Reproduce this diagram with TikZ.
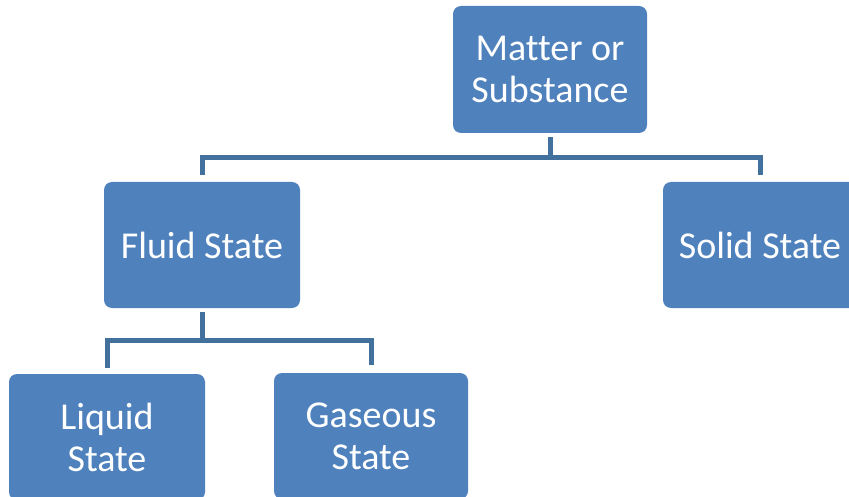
\documentclass[tikz,border=0pt]{standalone}
\usepackage{fontspec}
\setmainfont{Carlito}[Ligatures=NoCommon]
\definecolor{boxfill}{HTML}{4F81BD}
\definecolor{linkcol}{HTML}{41719C}
\begin{document}
\begin{tikzpicture}[x=1pt,y=-1pt,
  box/.style={rectangle, rounded corners=8pt, fill=boxfill, text=white,
    align=center, inner sep=0pt, minimum width=194pt, minimum height=126pt,
    font=\fontsize{38}{42}\selectfont},
  link/.style={draw=linkcol, line width=5pt}]
\useasboundingbox (0,0) rectangle (849,497);
\node[box, minimum height=127pt] (matter) at (550,69.5) {Matter or\\Substance};
\node[box, minimum width=196pt] (fluid) at (202,245) {Fluid State};
\node[box] (solid) at (760,245) {Solid State};
\node[box, minimum width=196pt] (liquid) at (107,437) {Liquid\\State};
\node[box] (gas) at (371,436) {Gaseous\\State};
\draw[link, shorten <=4pt, shorten >=7pt] (matter.south) -- ++(0,24) -| (fluid.north);
\draw[link, shorten <=4pt, shorten >=7pt] (matter.south) -- ++(0,24) -| (solid.north);
\draw[link, shorten <=4pt, shorten >=6pt] (fluid.south) -- ++(0,32) -| (liquid.north);
\draw[link, shorten <=4pt, shorten >=8pt] (fluid.south) -- ++(0,32) -| (gas.north);
\end{tikzpicture}
\end{document}
